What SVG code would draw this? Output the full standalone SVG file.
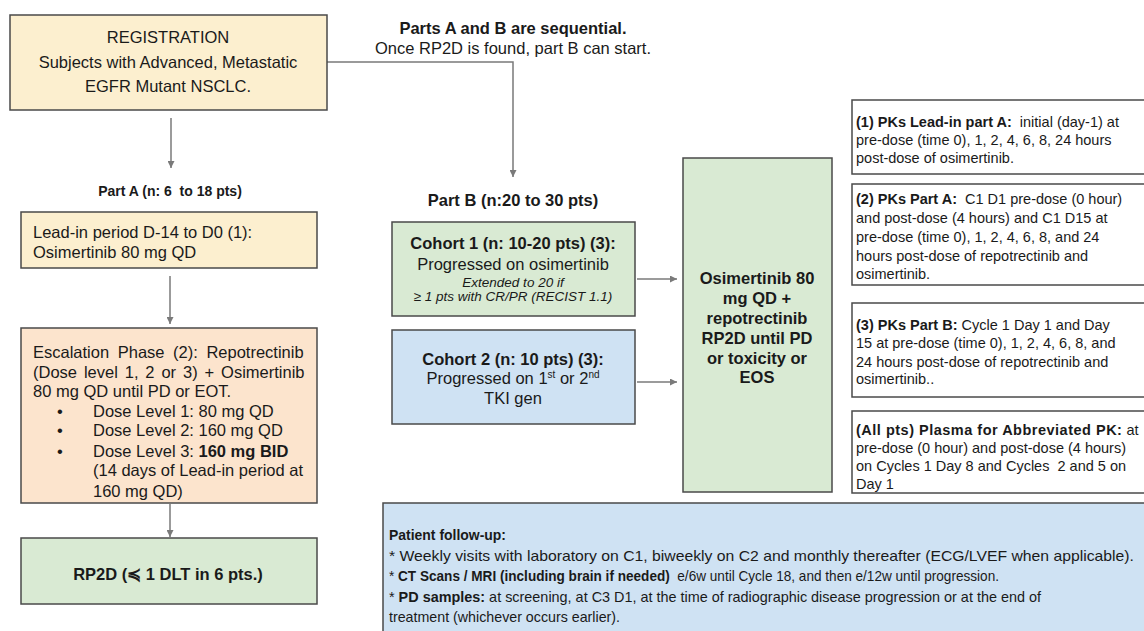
<svg xmlns="http://www.w3.org/2000/svg" width="1144" height="631" viewBox="0 0 1144 631">
<style>
text{font-family:"Liberation Sans",Arial,sans-serif;fill:#1a1a1a}
.box{stroke:#4a4a4a;stroke-width:1.5}
.y{fill:#fcefcf}
.p{fill:#fce4cd}
.g{fill:#d9ead3}
.b{fill:#cfe2f3}
.w{fill:#ffffff}
.t{font-size:16.5px}
.tb{font-size:16.5px;font-weight:bold}
.b14{font-size:14px;font-weight:bold}
.pk{font-size:14.5px}
.it{font-size:13.5px;font-style:italic}
.c{text-anchor:middle}
.bold{font-weight:bold}
.fu{font-size:15px}
.con{stroke:#7a7a7a;stroke-width:1.5;fill:none}
</style>
<defs>
<marker id="ah" viewBox="0 0 10 10" refX="10" refY="5" markerWidth="7" markerHeight="7" orient="auto" markerUnits="userSpaceOnUse">
<path d="M0,0 L10,5 L0,10 z" fill="#7a7a7a"/>
</marker>
</defs>
<rect width="1144" height="631" fill="#ffffff"/>

<g id="connectors">
<path class="con" d="M327,62 H513 V177" marker-end="url(#ah)"/>
<path class="con" d="M171,118 V168" marker-end="url(#ah)"/>
<path class="con" d="M170,276 V324" marker-end="url(#ah)"/>
<path class="con" d="M170,504 V537" marker-end="url(#ah)"/>
<path class="con" d="M637,279 H677" marker-end="url(#ah)"/>
<path class="con" d="M637,382 H677" marker-end="url(#ah)"/>
</g>

<g id="registration">
<rect class="box y" x="10" y="15" width="317" height="95"/>
<text class="t c" x="168" y="43">REGISTRATION</text>
<text class="t c" x="168" y="68">Subjects with Advanced, Metastatic</text>
<text class="t c" x="168" y="92">EGFR Mutant NSCLC.</text>
</g>

<g id="sequential-note">
<text class="tb c" x="513" y="34">Parts A and B are sequential.</text>
<text class="t c" x="513" y="54">Once RP2D is found, part B can start.</text>
</g>

<g id="partA-label">
<text class="b14 c" x="170" y="196" xml:space="preserve">Part A (n: 6  to 18 pts)</text>
</g>

<g id="leadin">
<rect class="box y" x="21" y="212" width="296" height="56"/>
<text class="t" x="33" y="238">Lead-in period D-14 to D0 (1):</text>
<text class="t" x="33" y="258">Osimertinib 80 mg QD</text>
</g>

<g id="escalation">
<rect class="box p" x="21" y="328" width="296" height="175"/>
<text class="t" x="33" y="358" word-spacing="4">Escalation Phase (2): Repotrectinib</text>
<text class="t" x="33" y="378" word-spacing="2.3">(Dose level 1, 2 or 3) + Osimertinib</text>
<text class="t" x="33" y="397">80 mg QD until PD or EOT.</text>
<text class="t c" x="60" y="417">•</text>
<text class="t" x="93" y="417">Dose Level 1: 80 mg QD</text>
<text class="t c" x="60" y="436">•</text>
<text class="t" x="93" y="436">Dose Level 2: 160 mg QD</text>
<text class="t c" x="60" y="457">•</text>
<text class="t" x="93" y="457">Dose Level 3: <tspan class="bold">160 mg BID</tspan></text>
<text class="t" x="93" y="476">(14 days of Lead-in period at</text>
<text class="t" x="93" y="497">160 mg QD)</text>
</g>

<g id="rp2d">
<rect class="box g" x="21" y="538" width="296" height="66"/>
<text class="tb c" x="168" y="580">RP2D (≼ 1 DLT in 6 pts.)</text>
</g>

<g id="partB-label">
<text class="tb c" x="513" y="206">Part B (n:20 to 30 pts)</text>
</g>

<g id="cohort1">
<rect class="box g" x="392" y="222" width="243" height="94"/>
<text class="tb c" x="513" y="249">Cohort 1 (n: 10-20 pts) (3):</text>
<text class="t c" x="513" y="270">Progressed on osimertinib</text>
<text class="it c" x="513" y="287">Extended to 20 if</text>
<text class="it c" x="513" y="301">≥ 1 pts with CR/PR (RECIST 1.1)</text>
</g>

<g id="cohort2">
<rect class="box b" x="392" y="330" width="243" height="94"/>
<text class="tb c" x="513" y="365">Cohort 2 (n: 10 pts) (3):</text>
<text class="t c" x="513" y="384">Progressed on 1<tspan font-size="10" dy="-6">st</tspan><tspan dy="6"> or 2</tspan><tspan font-size="10" dy="-6">nd</tspan></text>
<text class="t c" x="513" y="404">TKI gen</text>
</g>

<g id="combo">
<rect class="box g" x="683" y="158" width="149" height="334"/>
<text class="tb c" x="757" y="284">Osimertinib 80</text>
<text class="tb c" x="757" y="304">mg QD +</text>
<text class="tb c" x="757" y="324">repotrectinib</text>
<text class="tb c" x="757" y="344">RP2D until PD</text>
<text class="tb c" x="757" y="364">or toxicity or</text>
<text class="tb c" x="757" y="383">EOS</text>
</g>

<g id="pk1">
<rect class="box w" x="852" y="100" width="300" height="74"/>
<text class="pk" x="856" y="127" xml:space="preserve"><tspan class="bold">(1) PKs Lead-in part A:</tspan>  initial (day-1) at</text>
<text class="pk" x="856" y="145">pre-dose (time 0), 1, 2, 4, 6, 8, 24 hours</text>
<text class="pk" x="856" y="163">post-dose of osimertinib.</text>
</g>

<g id="pk2">
<rect class="box w" x="852" y="184" width="300" height="101"/>
<text class="pk" x="856" y="204" xml:space="preserve"><tspan class="bold">(2) PKs Part A:</tspan>  C1 D1 pre-dose (0 hour)</text>
<text class="pk" x="856" y="223">and post-dose (4 hours) and C1 D15 at</text>
<text class="pk" x="856" y="242">pre-dose (time 0), 1, 2, 4, 6, 8, and 24</text>
<text class="pk" x="856" y="261">hours post-dose of repotrectinib and</text>
<text class="pk" x="856" y="279">osimertinib.</text>
</g>

<g id="pk3">
<rect class="box w" x="852" y="303" width="300" height="94"/>
<text class="pk" x="856" y="330"><tspan class="bold">(3) PKs Part B:</tspan> Cycle 1 Day 1 and Day</text>
<text class="pk" x="856" y="348">15 at pre-dose (time 0), 1, 2, 4, 6, 8, and</text>
<text class="pk" x="856" y="367">24 hours post-dose of repotrectinib and</text>
<text class="pk" x="856" y="384">osimertinib..</text>
</g>

<g id="pk4">
<rect class="box w" x="852" y="411" width="300" height="82"/>
<text class="pk" x="856" y="435"><tspan class="bold" letter-spacing="0.5">(All pts) Plasma for Abbreviated PK:</tspan> at</text>
<text class="pk" x="856" y="453">pre-dose (0 hour) and post-dose (4 hours)</text>
<text class="pk" x="856" y="471" xml:space="preserve">on Cycles 1 Day 8 and Cycles  2 and 5 on</text>
<text class="pk" x="856" y="489">Day 1</text>
</g>

<g id="followup">
<rect class="box b" x="383" y="503" width="770" height="140"/>
<text class="fu bold" x="389" y="540" textLength="117" lengthAdjust="spacingAndGlyphs">Patient follow-up:</text>
<text class="fu" x="389" y="561" textLength="745" lengthAdjust="spacingAndGlyphs">* Weekly visits with laboratory on C1, biweekly on C2 and monthly thereafter (ECG/LVEF when applicable).</text>
<text class="fu" x="389" y="581" textLength="610" lengthAdjust="spacingAndGlyphs" xml:space="preserve">* <tspan class="bold">CT Scans / MRI (including brain if needed)</tspan>  e/6w until Cycle 18, and then e/12w until progression.</text>
<text class="fu" x="389" y="602" textLength="652" lengthAdjust="spacingAndGlyphs">* <tspan class="bold">PD samples:</tspan> at screening, at C3 D1, at the time of radiographic disease progression or at the end of</text>
<text class="fu" x="389" y="622" textLength="231" lengthAdjust="spacingAndGlyphs">treatment (whichever occurs earlier).</text>
</g>
</svg>
